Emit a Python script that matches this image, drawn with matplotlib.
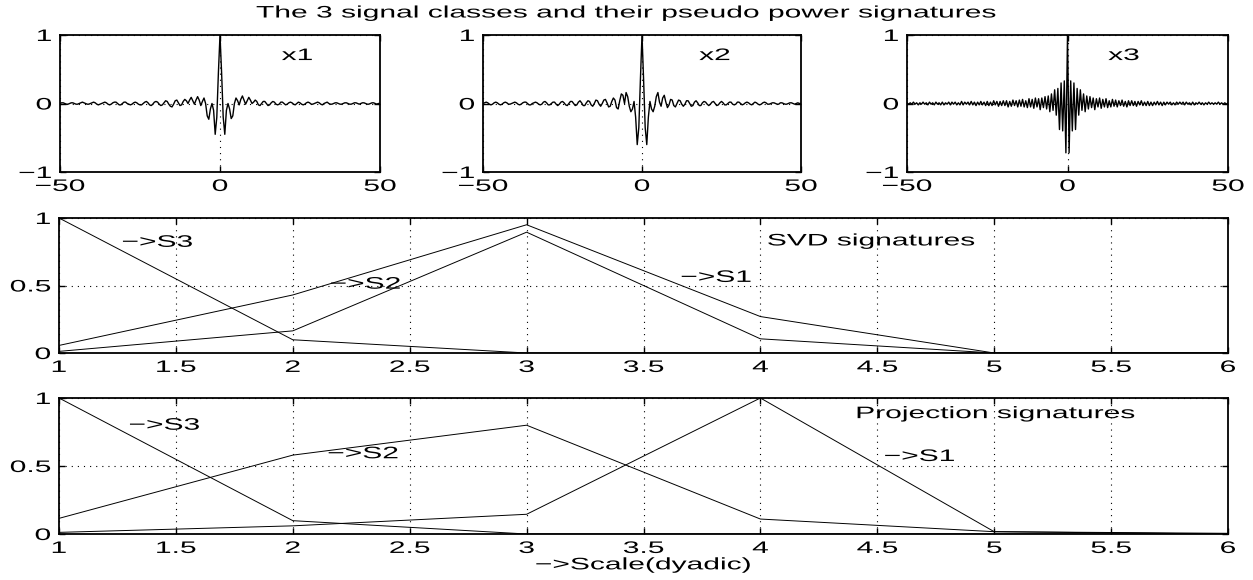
import matplotlib
matplotlib.use('Agg')
import matplotlib.pyplot as plt
import numpy as np
from matplotlib.patheffects import AbstractPathEffect
from matplotlib.transforms import Affine2D
from matplotlib.ticker import FuncFormatter

plt.rcParams['font.family'] = ['Liberation Sans', 'DejaVu Sans']
plt.rcParams['font.size'] = 12

# time axis of the three signals (201 samples, step 0.5)
t = np.linspace(-50, 50, 201)

x1 = [
    0.00, 0.01, 0.01, 0.00, -0.01, -0.01, 0.00, 0.01, 0.01, 0.00,
    -0.01, -0.01, 0.00, 0.01, 0.02, 0.01, 0.00, -0.01, -0.01, 0.00,
    0.01, 0.02, 0.01, -0.01, -0.02, -0.01, 0.00, 0.01, 0.02, 0.01,
    -0.01, -0.02, -0.01, 0.01, 0.02, 0.02, 0.00, -0.02, -0.02, 0.00,
    0.02, 0.02, 0.00, -0.01, -0.02, -0.01, 0.01, 0.02, 0.01, -0.01,
    -0.02, -0.02, 0.00, 0.02, 0.03, 0.01, -0.02, -0.03, -0.01, 0.02,
    0.03, 0.02, -0.01, -0.03, -0.02, 0.01, 0.04, 0.03, -0.01, -0.04,
    -0.05, -0.01, 0.04, 0.05, 0.01, -0.03, -0.02, 0.03, 0.06, 0.04,
    0.00, 0.05, 0.09, 0.04, -0.01, 0.05, 0.10, 0.05, -0.03, 0.03,
    0.08, 0.00, -0.18, -0.23, -0.08, 0.00, -0.10, -0.45, -0.20, 0.45,
    1.00,
    0.45, -0.20, -0.45, -0.10, 0.00, -0.08, -0.22, -0.18, 0.00, 0.08,
    0.04, -0.02, 0.06, 0.11, 0.05, -0.01, 0.04, 0.09, 0.05, 0.00,
    0.02, 0.05, 0.03, -0.02, -0.03, 0.00, 0.03, 0.03, 0.00, -0.03,
    -0.02, 0.01, 0.03, 0.02, -0.01, -0.02, -0.01, 0.02, 0.02, 0.00,
    -0.02, -0.01, 0.01, 0.02, 0.01, -0.01, -0.02, 0.00, 0.02, 0.01,
    -0.01, -0.02, -0.01, 0.01, 0.02, 0.01, -0.01, -0.01, 0.00, 0.01,
    0.02, 0.01, -0.01, -0.02, 0.00, 0.01, 0.02, 0.00, -0.01, -0.01,
    0.00, 0.01, 0.01, 0.00, -0.01, -0.01, 0.00, 0.01, 0.01, 0.00,
    -0.01, -0.01, 0.00, 0.01, 0.01, 0.00, -0.01, 0.00, 0.01, 0.01,
    0.00, -0.01, -0.01, 0.00, 0.01, 0.01, 0.00, -0.01, 0.00, 0.00,
]

x2 = [
    0.00, 0.01, 0.02, 0.01, -0.01, -0.02, -0.01, 0.01, 0.02, 0.01,
    -0.01, -0.02, -0.01, 0.01, 0.02, 0.01, -0.01, -0.01, 0.00, 0.01,
    0.02, 0.01, -0.01, -0.02, -0.01, 0.01, 0.02, 0.02, 0.00, -0.02,
    -0.02, 0.00, 0.01, 0.02, 0.01, -0.01, -0.02, -0.01, 0.02, 0.03,
    0.01, -0.02, -0.02, 0.00, 0.02, 0.02, -0.01, -0.03, -0.01, 0.02,
    0.03, 0.01, -0.02, -0.03, 0.00, 0.03, 0.03, 0.00, -0.03, -0.02,
    0.02, 0.04, 0.01, -0.03, -0.03, 0.01, 0.04, 0.03, -0.02, -0.04,
    0.00, 0.05, 0.04, -0.01, -0.04, 0.00, 0.05, 0.06, 0.01, -0.05,
    -0.04, 0.03, 0.08, 0.05, -0.06, -0.08, 0.04, 0.14, 0.12, 0.00,
    0.16, 0.10, -0.04, -0.12, -0.08, 0.03, -0.20, -0.60, -0.35, 0.35,
    1.00,
    0.35, -0.35, -0.60, -0.20, 0.03, -0.08, -0.12, -0.04, 0.10, 0.16,
    0.02, -0.04, 0.08, 0.12, 0.02, -0.06, -0.02, 0.06, 0.05, -0.03,
    -0.05, 0.00, 0.05, 0.04, -0.01, -0.04, -0.01, 0.04, 0.04, 0.00,
    -0.04, -0.03, 0.02, 0.04, 0.01, -0.03, -0.03, 0.01, 0.03, 0.02,
    -0.01, -0.03, -0.01, 0.02, 0.03, 0.00, -0.03, -0.02, 0.01, 0.03,
    0.01, -0.02, -0.02, 0.00, 0.02, 0.02, -0.01, -0.02, -0.01, 0.02,
    0.02, 0.00, -0.02, -0.01, 0.01, 0.02, 0.01, -0.01, -0.02, 0.00,
    0.02, 0.01, -0.01, -0.02, -0.01, 0.01, 0.02, 0.01, -0.01, -0.01,
    0.00, 0.01, 0.01, 0.00, -0.01, -0.01, 0.01, 0.01, 0.00, -0.01,
    -0.01, 0.00, 0.01, 0.01, 0.00, -0.01, 0.00, 0.01, 0.00, 0.00,
]

x3 = [
    0.01, -0.01, 0.01, -0.01, 0.02, -0.01, 0.01, -0.02, 0.01, -0.01,
    0.02, -0.01, 0.01, -0.02, 0.02, -0.01, 0.01, -0.02, 0.02, -0.01,
    0.01, -0.02, 0.02, -0.02, 0.01, -0.01, 0.02, -0.02, 0.02, -0.01,
    0.02, -0.02, 0.01, -0.02, 0.03, -0.02, 0.02, -0.01, 0.02, -0.02,
    0.03, -0.02, 0.02, -0.03, 0.02, -0.02, 0.03, -0.02, 0.02, -0.03,
    0.03, -0.03, 0.02, -0.03, 0.04, -0.02, 0.03, -0.04, 0.03, -0.03,
    0.04, -0.03, 0.04, -0.05, 0.03, -0.04, 0.05, -0.03, 0.04, -0.05,
    0.05, -0.04, 0.06, -0.05, 0.04, -0.06, 0.07, -0.05, 0.06, -0.07,
    0.08, -0.05, 0.07, -0.09, 0.08, -0.06, 0.10, -0.08, 0.11, -0.12,
    0.14, -0.10, 0.20, -0.17, 0.22, -0.38, 0.30, -0.40, 0.33, -0.72,
    1.00,
    -0.72, 0.33, -0.40, 0.30, -0.38, 0.22, -0.17, 0.20, -0.10, 0.14,
    -0.12, 0.11, -0.08, 0.10, -0.06, 0.08, -0.09, 0.07, -0.05, 0.08,
    -0.07, 0.06, -0.05, 0.07, -0.06, 0.04, -0.05, 0.06, -0.04, 0.05,
    -0.05, 0.04, -0.03, 0.05, -0.04, 0.03, -0.05, 0.04, -0.03, 0.04,
    -0.03, 0.03, -0.04, 0.03, -0.02, 0.04, -0.03, 0.02, -0.03, 0.03,
    -0.03, 0.02, -0.03, 0.02, -0.02, 0.03, -0.02, 0.02, -0.03, 0.02,
    -0.02, 0.02, -0.01, 0.02, -0.02, 0.01, -0.02, 0.02, -0.01, 0.02,
    -0.01, 0.02, -0.02, 0.02, -0.01, 0.01, -0.02, 0.02, -0.02, 0.01,
    -0.01, 0.02, -0.01, 0.01, -0.02, 0.01, -0.01, 0.02, -0.01, 0.01,
    -0.01, 0.01, -0.01, 0.02, -0.01, 0.01, -0.01, 0.01, -0.01, 0.01,
]

signals = [x1, x2, x3]
signal_names = ['x1', 'x2', 'x3']

# dyadic scales and the signatures
scales = [1, 2, 3, 4, 5, 6]
svd_s1 = [0.012, 0.164, 0.895, 0.105, 0.0, 0.0]
svd_s2 = [0.056, 0.43, 0.95, 0.27, 0.0, 0.0]
svd_s3 = [1.0, 0.098, 0.0, 0.0, 0.0, 0.0]
proj_s1 = [0.012, 0.06, 0.145, 1.0, 0.017, 0.005]
proj_s2 = [0.115, 0.58, 0.80, 0.11, 0.017, 0.0]
proj_s3 = [1.0, 0.098, 0.0, 0.0, 0.0, 0.0]


class Stretch(AbstractPathEffect):
    # widen glyphs horizontally (the reference image is stretched)
    def __init__(self, sx=1.8, anchor='center'):
        super().__init__()
        self.sx = sx
        self.anchor = anchor

    def draw_path(self, renderer, gc, tpath, affine, rgbFace=None):
        ext = tpath.get_extents()
        if self.anchor == 'left':
            cx = ext.x0
        elif self.anchor == 'right':
            cx = ext.x1
        else:
            cx = 0.5 * (ext.x0 + ext.x1)
        tr = Affine2D().translate(-cx, 0).scale(self.sx, 1).translate(cx, 0) + affine
        renderer.draw_path(gc, tpath, tr, rgbFace)


def wide(anchor='center'):
    return [Stretch(1.8, anchor)]


def style(ax):
    for s in ax.spines.values():
        s.set_linewidth(1.3)
    ax.tick_params(direction='in', length=4, width=1, top=True, right=True,
                   pad=5)
    ax.tick_params(axis='y', pad=6)
    ax.grid(True, linestyle=(0, (1, 4.5)), color='k', linewidth=0.8)


W, H = 1253, 580
fig = plt.figure(figsize=(W / 100, H / 100), dpi=100)

top_lefts = [60, 483, 907]
top_widths = [320, 318, 321]
name_x = [19.3, 18.0, 12.7]
top_axes = []
for i in range(3):
    ax = fig.add_axes([top_lefts[i] / W, 1 - 172 / H, top_widths[i] / W, 137 / H])
    ax.plot(t, signals[i], color='k', linewidth=1.0)
    ax.set_xlim(-50, 50)
    ax.set_ylim(-1, 1)
    ax.set_xticks([-50, 0, 50])
    ax.set_yticks([-1, 0, 1])
    style(ax)
    ax.text(name_x[i], 0.7, signal_names[i], ha='left', va='center',
            path_effects=wide('left'))
    top_axes.append(ax)

fmt = FuncFormatter(lambda v, p: f'{v:g}')

ax_svd = fig.add_axes([59 / W, 1 - 353 / H, 1169 / W, 135 / H])
for s in [svd_s1, svd_s2, svd_s3]:
    ax_svd.plot(scales, s, color='k', linewidth=0.7)
ax_svd.text(1.27, 0.82, '\u2212>S3', ha='left', va='center', path_effects=wide('left'))
ax_svd.text(2.16, 0.51, '\u2212>S2', ha='left', va='center', path_effects=wide('left'))
ax_svd.text(3.66, 0.56, '\u2212>S1', ha='left', va='center', path_effects=wide('left'))
ax_svd.text(4.03, 0.83, 'SVD signatures', ha='left', va='center',
            path_effects=wide('left'))

ax_proj = fig.add_axes([59 / W, 1 - 534 / H, 1169 / W, 136 / H])
for s in [proj_s1, proj_s2, proj_s3]:
    ax_proj.plot(scales, s, color='k', linewidth=0.7)
ax_proj.text(1.30, 0.80, '\u2212>S3', ha='left', va='center', path_effects=wide('left'))
ax_proj.text(2.15, 0.59, '\u2212>S2', ha='left', va='center', path_effects=wide('left'))
ax_proj.text(4.53, 0.57, '\u2212>S1', ha='left', va='center', path_effects=wide('left'))
ax_proj.text(4.41, 0.885, 'Projection signatures', ha='left', va='center',
             path_effects=wide('left'))

for ax in [ax_svd, ax_proj]:
    ax.set_xlim(1, 6)
    ax.set_ylim(0, 1)
    ax.set_xticks(np.arange(1, 6.5, 0.5))
    ax.set_yticks([0, 0.5, 1])
    ax.xaxis.set_major_formatter(fmt)
    ax.yaxis.set_major_formatter(fmt)
    style(ax)

xl = ax_proj.set_xlabel('\u2212>Scale(dyadic)', labelpad=1)
xl.set_path_effects(wide('center'))

fig.text(0.5, 1 - 13 / H, 'The 3 signal classes and their pseudo power signatures',
         ha='center', va='center', path_effects=wide('center'))

fig.canvas.draw()
for ax in top_axes + [ax_svd, ax_proj]:
    for lab in ax.get_xticklabels():
        lab.set_path_effects(wide('center'))
    for lab in ax.get_yticklabels():
        lab.set_path_effects(wide('right'))

fig.savefig('out.png', dpi=100)
